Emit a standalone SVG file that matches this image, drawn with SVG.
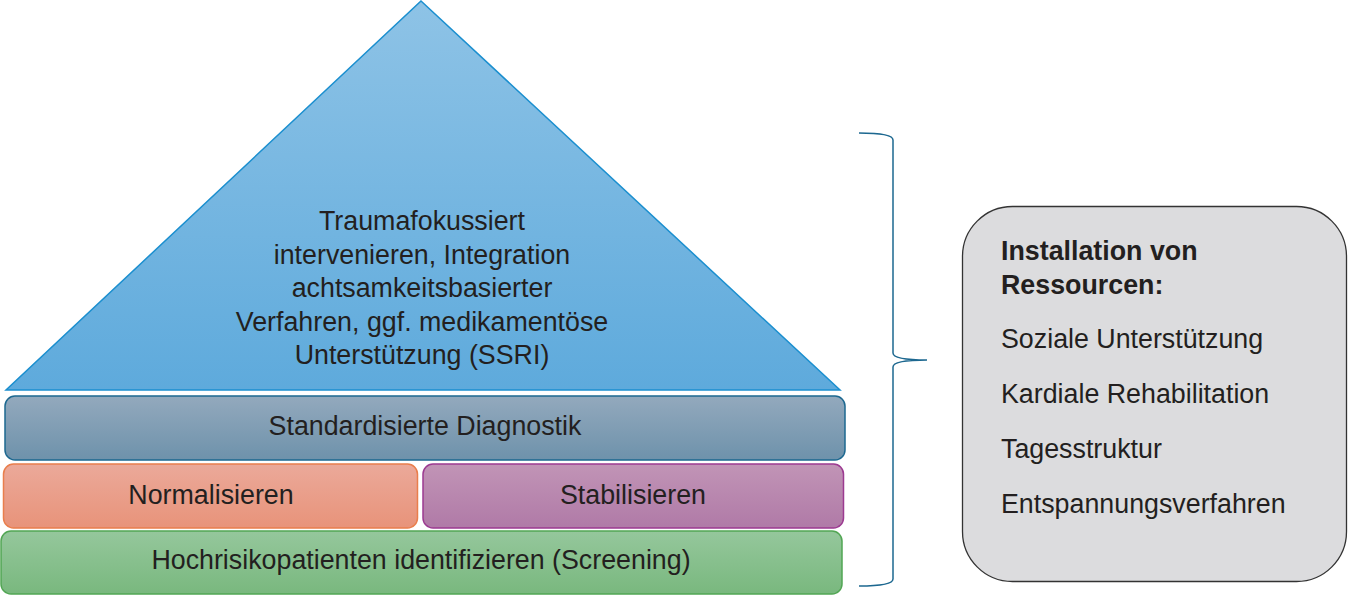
<svg xmlns="http://www.w3.org/2000/svg" width="1348" height="596" viewBox="0 0 1348 596">
<defs>
<linearGradient id="gTri" x1="0" y1="0" x2="0" y2="1"><stop offset="0" stop-color="#8ec3e6"/><stop offset="1" stop-color="#5eaadc"/></linearGradient>
<linearGradient id="gDia" x1="0" y1="0" x2="0" y2="1"><stop offset="0" stop-color="#93a9bd"/><stop offset="1" stop-color="#6e92ab"/></linearGradient>
<linearGradient id="gNor" x1="0" y1="0" x2="0" y2="1"><stop offset="0" stop-color="#eba99a"/><stop offset="1" stop-color="#e8937a"/></linearGradient>
<linearGradient id="gSta" x1="0" y1="0" x2="0" y2="1"><stop offset="0" stop-color="#c194b6"/><stop offset="1" stop-color="#b07aa7"/></linearGradient>
<linearGradient id="gHoc" x1="0" y1="0" x2="0" y2="1"><stop offset="0" stop-color="#95c79c"/><stop offset="1" stop-color="#79b87e"/></linearGradient>
</defs>
<style>
text{font-family:"Liberation Sans",Arial,sans-serif;font-size:26.8px;fill:#231f20}
.c{text-anchor:middle}
.b{font-weight:bold}
</style>
<rect width="1348" height="596" fill="#ffffff"/>
<g id="tip">
<polygon points="421,1 840,390 6,390" fill="url(#gTri)" stroke="#1b8fcf" stroke-width="1.5" stroke-linejoin="miter"/>
<text class="c" x="422" y="230">Traumafokussiert</text>
<text class="c" x="422" y="264">intervenieren, Integration</text>
<text class="c" x="422" y="297">achtsamkeitsbasierter</text>
<text class="c" x="422" y="331">Verfahren, ggf. medikamentöse</text>
<text class="c" x="422" y="364">Unterstützung (SSRI)</text>
</g>
<g id="diagnostik">
<rect x="5" y="396" width="840" height="64" rx="10" fill="url(#gDia)" stroke="#1d6890" stroke-width="1.5"/>
<text class="c" x="425" y="435">Standardisierte Diagnostik</text>
</g>
<g id="normalisieren">
<rect x="3.5" y="464" width="414" height="64" rx="10" fill="url(#gNor)" stroke="#e97e4c" stroke-width="1.5"/>
<text class="c" x="211" y="504">Normalisieren</text>
</g>
<g id="stabilisieren">
<rect x="423" y="464" width="420.5" height="64" rx="10" fill="url(#gSta)" stroke="#9c3a91" stroke-width="1.5"/>
<text class="c" x="633" y="504">Stabilisieren</text>
</g>
<g id="screening">
<rect x="1" y="531" width="841" height="63" rx="10" fill="url(#gHoc)" stroke="#52a654" stroke-width="1.5"/>
<text class="c" x="421" y="569">Hochrisikopatienten identifizieren (Screening)</text>
</g>
<g id="connectors">
<path d="M859,133 Q893,133 893,140 L893,353 Q893,360 927,360 Q893,360 893,367 L893,579 Q893,586 859,586" fill="none" stroke="#1d6890" stroke-width="1.5"/>
</g>
<g id="ressourcen">
<rect x="962.5" y="206.5" width="384" height="375" rx="50" fill="#dcdcde" stroke="#333333" stroke-width="1.3"/>
<text class="b" x="1001" y="260">Installation von</text>
<text class="b" x="1001" y="294">Ressourcen:</text>
<text x="1001" y="348">Soziale Unterstützung</text>
<text x="1001" y="403">Kardiale Rehabilitation</text>
<text x="1001" y="458">Tagesstruktur</text>
<text x="1001" y="513">Entspannungsverfahren</text>
</g>
</svg>
